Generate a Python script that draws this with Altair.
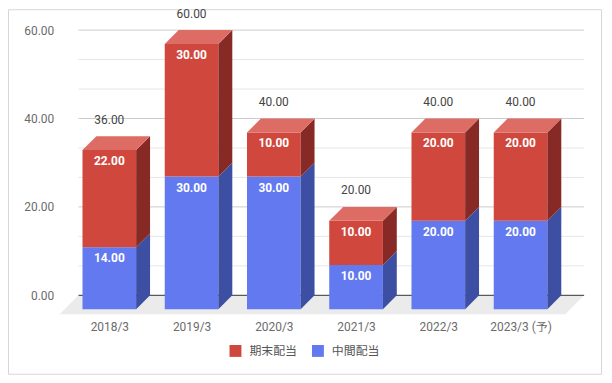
import json
import altair as alt
import pandas as pd

# ---- data ----
categories = ["2018/3", "2019/3", "2020/3", "2021/3", "2022/3", "2023/3 (予)"]
interim = [14, 30, 30, 10, 20, 20]   # 中間配当
final = [22, 30, 10, 10, 20, 20]     # 期末配当
series_names = ["期末配当", "中間配当"]
y_ticks = [0, 20, 40, 60]
grid_step = 20 / 3

# ---- styles / geometry ----
RED, RED_TOP, RED_SIDE = "#d0473e", "#dc6c64", "#872a25"
BLUE, BLUE_TOP, BLUE_SIDE = "#6279f0", "#8c9ef5", "#3d4fa2"
FONT = "Roboto, 'Noto Sans CJK JP', sans-serif"

W, H = 528, 286
KX = 82.8                 # px per category step
X0, X1 = -50 / KX, 478 / KX
Y0, Y1 = -4.27, 60
KY = H / (Y1 - Y0)        # px per y unit
HALF = 27 / KX            # half bar width
DXB, DYB = 14 / KX, 14 / KY   # bar depth
FDX = 19 / KX             # floor depth (x)
FRONT_LEN = (569 - 60) / KX

xscale = alt.Scale(domain=[X0, X1], nice=False, zero=False)
yscale = alt.Scale(domain=[Y0, Y1], nice=False, zero=False)

label_js = json.dumps(categories, ensure_ascii=False)
xaxis = alt.Axis(values=list(range(len(categories))), labelExpr=f"{label_js}[datum.value]",
                 domain=False, ticks=False, grid=False, title=None, labelFont=FONT,
                 labelFontSize=12, labelColor="#6b6b6b", labelPadding=7, labelFlush=False)
yaxis = alt.Axis(values=y_ticks, format=".2f", domain=False, ticks=False, grid=False,
                 title=None, labelFont=FONT, labelFontSize=12, labelColor="#6b6b6b",
                 labelPadding=6)


def X(f):
    return alt.X(f, scale=xscale, axis=xaxis)


def Y(f):
    return alt.Y(f, scale=yscale, axis=yaxis, stack=None)


# ---- build geometry tables from data ----
fronts, polys, seglabels, totals = [], [], [], []
pid = 0
for i, cat in enumerate(categories):
    xl, xr = i - HALF, i + HALF
    segs = [(0, interim[i], "中間配当", BLUE_SIDE, BLUE_TOP),
            (interim[i], interim[i] + final[i], "期末配当", RED_SIDE, RED_TOP)]
    for lo, hi, name, side, top in segs:
        fronts.append(dict(x=xl, x2=xr, y=lo - DYB, y2=hi - DYB, series=name))
        pid += 1
        polys += [dict(poly=pid, x=xr, y=lo - DYB, y2=hi - DYB, fill=side),
                  dict(poly=pid, x=xr + DXB, y=lo, y2=hi, fill=side)]
        seglabels.append(dict(x=i, y=hi - DYB, text=f"{hi - lo:.2f}"))
    hi = interim[i] + final[i]
    pid += 1
    polys += [dict(poly=pid, x=xl, y=hi - DYB, y2=hi - DYB, fill=RED_TOP),
              dict(poly=pid, x=xl + DXB, y=hi - DYB, y2=hi, fill=RED_TOP),
              dict(poly=pid, x=xr, y=hi - DYB, y2=hi, fill=RED_TOP),
              dict(poly=pid, x=xr + DXB, y=hi, y2=hi, fill=RED_TOP)]
    totals.append(dict(x=i, y=hi, text=f"{hi:.2f}"))

fronts = pd.DataFrame(fronts)
polys = pd.DataFrame(polys)
seglabels = pd.DataFrame(seglabels)
totals = pd.DataFrame(totals)

floor = pd.DataFrame([
    dict(x=X0, y=Y0, y2=Y0),
    dict(x=X0 + FDX, y=Y0, y2=0),
    dict(x=X0 + FRONT_LEN, y=Y0, y2=0),
    dict(x=X0 + FRONT_LEN + FDX, y=0, y2=0),
])
grid_major = pd.DataFrame([dict(y=k * grid_step, x=X0 + FDX, x2=X1)
                           for k in range(1, 10) if k % 3 == 0])
grid_minor = pd.DataFrame([dict(y=k * grid_step, x=X0 + FDX, x2=X1)
                           for k in range(1, 10) if k % 3 != 0])
zero = pd.DataFrame([dict(y=0, x=X0 + FDX, x2=X1)])

# ---- layers ----
floor_l = alt.Chart(floor).mark_area(color="#ebebeb", opacity=1).encode(
    x=X("x:Q"), y=Y("y:Q"), y2="y2:Q")
gmin_l = alt.Chart(grid_minor).mark_rule(strokeWidth=1, color="#e6e6e6").encode(
    x=X("x:Q"), x2="x2:Q", y=Y("y:Q"))
gmaj_l = alt.Chart(grid_major).mark_rule(strokeWidth=1, color="#cccccc").encode(
    x=X("x:Q"), x2="x2:Q", y=Y("y:Q"))
zero_l = alt.Chart(zero).mark_rule(color="#333333", strokeWidth=1).encode(
    x=X("x:Q"), x2="x2:Q", y=Y("y:Q"))
front_l = alt.Chart(fronts).mark_rect(opacity=1).encode(
    x=X("x:Q"), x2="x2:Q", y=Y("y:Q"), y2="y2:Q",
    color=alt.Color("series:N", scale=alt.Scale(domain=series_names, range=[RED, BLUE]),
                    legend=alt.Legend(title=None, orient="none", direction="horizontal",
                                      legendX=171, legendY=317, symbolType="square",
                                      symbolSize=144, symbolStrokeWidth=0,
                                      labelFont=FONT, labelFontSize=12,
                                      labelColor="#555555", labelOffset=8,
                                      columnPadding=14)))
poly_l = alt.Chart(polys).mark_area(opacity=1, interpolate="linear").encode(
    x=X("x:Q"), y=Y("y:Q"), y2="y2:Q", detail="poly:N",
    fill=alt.Fill("fill:N", scale=None))
seg_text = alt.Chart(seglabels).mark_text(
    color="white", font=FONT, fontSize=12, fontWeight="bold", baseline="middle", dy=11
).encode(x=X("x:Q"), y=Y("y:Q"), text="text:N")
tot_text = alt.Chart(totals).mark_text(
    color="#444444", font=FONT, fontSize=12, baseline="middle", dy=-16.5
).encode(x=X("x:Q"), y=Y("y:Q"), text="text:N")
border = alt.Chart(pd.DataFrame({"a": [0]})).mark_rect(
    filled=False, stroke="#d6d6d6", strokeWidth=1
).encode(x=alt.value(-51.5), x2=alt.value(545.5), y=alt.value(-20.5), y2=alt.value(346.5))

chart = alt.layer(border, floor_l, gmin_l, gmaj_l, zero_l, front_l, poly_l, seg_text, tot_text).properties(
    width=W, height=H,
    autosize=alt.AutoSizeParams(type="none"),
    padding={"left": 52, "top": 21, "right": 20, "bottom": 61},
    background="white",
).configure_view(strokeWidth=0)

chart.save("out.html", embed_options={"renderer": "svg", "actions": False})
